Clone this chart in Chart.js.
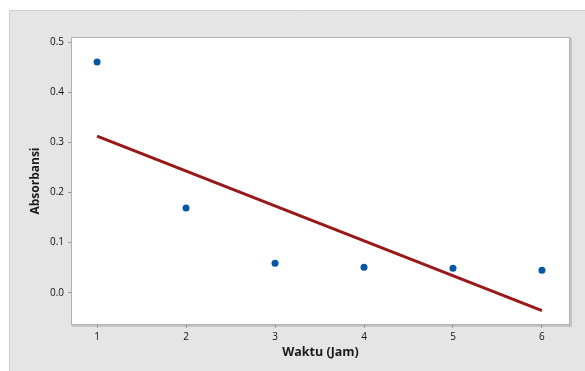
<!DOCTYPE html>
<html>
<head>
<meta charset="utf-8">
<script src="https://cdn.jsdelivr.net/npm/chart.js@4.4.0/dist/chart.umd.min.js"></script>
<style>
html,body{margin:0;padding:0;background:#ffffff;}
#wrap{position:absolute;left:0;top:0;width:585px;height:371px;}
</style>
</head>
<body>
<div id="wrap"><canvas id="c" width="585" height="371"></canvas></div>
<script>
// Data
const hours = [1, 2, 3, 4, 5, 6];
const absorbance = [0.461, 0.169, 0.059, 0.051, 0.049, 0.045];
// Fitted regression line end points
const fitX = [1, 6];
const fitY = [0.313, -0.036];
const xTickValues = [1, 2, 3, 4, 5, 6];
const yTickValues = [0.0, 0.1, 0.2, 0.3, 0.4, 0.5];
const xTitle = 'Waktu (Jam)';
const yTitle = 'Absorbansi';

const FONT = '"Open Sans", "Noto Sans", sans-serif';

const panelPlugin = {
  id: 'panel',
  beforeDraw(chart) {
    const ctx = chart.ctx;
    const a = chart.chartArea;
    ctx.save();
    // outer gray panel
    ctx.fillStyle = '#e5e5e5';
    ctx.fillRect(10, 11, chart.width - 10, chart.height - 11);
    ctx.strokeStyle = '#cfcfcf';
    ctx.lineWidth = 1;
    ctx.beginPath();
    ctx.moveTo(9.5, chart.height);
    ctx.lineTo(9.5, 10.5);
    ctx.lineTo(chart.width, 10.5);
    ctx.stroke();
    // shadow of plot area
    ctx.fillStyle = '#c4c4c4';
    ctx.fillRect(a.right, a.top + 1, 2, a.bottom - a.top + 1);
    ctx.fillRect(a.left + 1, a.bottom, a.right - a.left + 1, 2);
    // white plot area
    ctx.fillStyle = '#ffffff';
    ctx.fillRect(a.left, a.top, a.right - a.left, a.bottom - a.top);
    ctx.strokeStyle = '#b0b0b0';
    ctx.strokeRect(a.left + 0.5, a.top + 0.5, a.right - a.left - 1, a.bottom - a.top - 1);
    ctx.restore();
  }
};

new Chart(document.getElementById('c'), {
  type: 'scatter',
  data: {
    datasets: [
      {
        label: 'Fit',
        data: fitX.map((x, i) => ({x: x, y: fitY[i]})),
        showLine: true,
        borderColor: '#981818',
        backgroundColor: '#981818',
        borderWidth: 3,
        pointRadius: 0,
        order: 2
      },
      {
        label: 'Absorbansi',
        data: hours.map((x, i) => ({x: x, y: absorbance[i]})),
        showLine: false,
        pointRadius: 3.5,
        pointBackgroundColor: '#0756a4',
        pointBorderColor: '#0756a4',
        pointBorderWidth: 0,
        order: 1
      }
    ]
  },
  options: {
    responsive: false,
    animation: false,
    devicePixelRatio: 1,
    layout: {padding: {left: 0, top: 37, right: 15, bottom: 0}},
    plugins: {legend: {display: false}, tooltip: {enabled: false}},
    scales: {
      x: {
        type: 'linear',
        min: 0.707,
        max: 6.315,
        afterBuildTicks: s => { s.ticks = xTickValues.map(v => ({value: v})); },
        afterFit: s => { s.height = 46; },
        grid: {drawOnChartArea: false, drawTicks: true, tickLength: 3, color: '#9a9a9a'},
        border: {display: false},
        ticks: {
          padding: 3,
          color: '#111111',
          font: {family: FONT, size: 10},
          maxRotation: 0,
          callback: v => String(v)
        },
        title: {
          display: true,
          text: xTitle,
          color: '#1a1a1a',
          font: {family: FONT, size: 12.5, weight: 'bold'},
          padding: {top: 0, bottom: 11}
        }
      },
      y: {
        type: 'linear',
        min: -0.0646,
        max: 0.511,
        afterBuildTicks: s => { s.ticks = yTickValues.map(v => ({value: v})); },
        afterFit: s => { s.width = 71; },
        grid: {drawOnChartArea: false, drawTicks: true, tickLength: 3, color: '#9a9a9a'},
        border: {display: false},
        ticks: {
          padding: 4,
          color: '#111111',
          font: {family: FONT, size: 10},
          callback: v => Number(v).toFixed(1)
        },
        title: {
          display: true,
          text: yTitle,
          color: '#1a1a1a',
          font: {family: FONT, size: 12, weight: 'bold'},
          padding: {top: 28, bottom: 0}
        }
      }
    }
  },
  plugins: [panelPlugin]
});
</script>
</body>
</html>
